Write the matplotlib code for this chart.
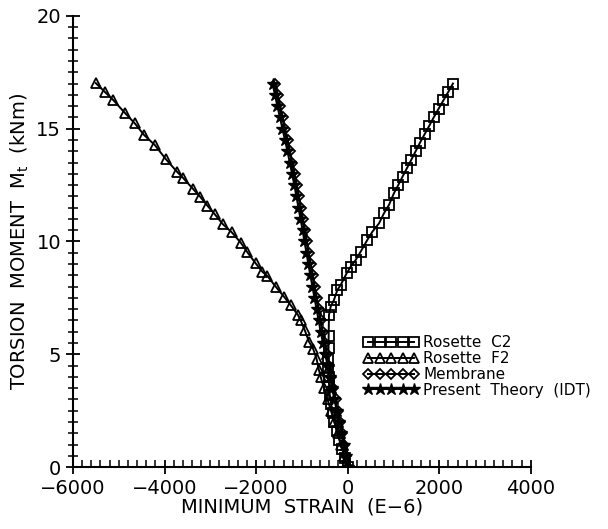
import matplotlib
matplotlib.use("Agg")
import matplotlib.pyplot as plt
from matplotlib.ticker import MultipleLocator

# Rosette C2 (squares)
c2_strain = [0, -60, -120, -180, -240, -290, -330, -360, -390, -405, -415, -420,
             -420, -418, -415, -408, -371, -299, -225, -153, -22, 66, 175, 284,
             430, 539, 684, 793, 902, 1011, 1105, 1200, 1295, 1390, 1485, 1580,
             1680, 1780, 1880, 1985, 2090, 2195, 2300]
c2_moment = [0, 0.4, 0.8, 1.2, 1.6, 2.0, 2.4, 2.8, 3.2, 3.6, 4.0, 4.4,
             4.8, 5.3, 5.8, 6.74, 7.11, 7.41, 7.85, 8.07, 8.59, 8.88, 9.18, 9.55,
             10.07, 10.43, 10.80, 11.25, 11.62, 12.14, 12.5, 12.88, 13.25, 13.62, 14.0, 14.38,
             14.75, 15.12, 15.5, 15.88, 16.25, 16.62, 17.0]

# Rosette F2 (triangles)
f2_strain = [0, -70, -145, -220, -290, -365, -440, -515, -590, -627, -677,
             -750, -845, -939, -1026, -1085, -1245, -1390, -1572, -1754, -1863,
             -2009, -2190, -2336, -2533, -2723, -2904, -3064, -3225, -3369,
             -3587, -3718, -3967, -4214, -4447, -4651, -4862, -5116, -5299, -5502]
f2_moment = [0, 0.5, 1.0, 1.5, 2.0, 2.5, 3.0, 3.5, 4.0, 4.30, 4.78,
             5.22, 5.56, 6.08, 6.50, 6.74, 7.18, 7.55, 8.00, 8.47, 8.66,
             9.03, 9.52, 9.95, 10.41, 10.76, 11.21, 11.59, 11.99, 12.31,
             12.80, 13.07, 13.64, 14.28, 14.72, 15.24, 15.69, 16.26, 16.62, 17.02]

# Membrane (diamonds)
mem_strain = [0, -35, -80, -125, -170, -215, -265, -310, -355, -400, -450,
              -495, -545, -590, -630, -675, -720, -760, -805, -850, -890, -930,
              -975, -1020, -1065, -1110, -1160, -1210, -1260, -1310, -1365, -1420,
              -1470, -1525, -1580]
mem_moment = [0, 0.5, 1.0, 1.5, 2.0, 2.5, 3.0, 3.5, 4.0, 4.5, 5.0,
              5.5, 6.0, 6.5, 7.0, 7.5, 8.0, 8.5, 9.0, 9.5, 10.0, 10.5,
              11.0, 11.5, 12.0, 12.5, 13.0, 13.5, 14.0, 14.5, 15.0, 15.5,
              16.0, 16.5, 17.0]

# Present Theory (IDT) (stars)
idt_strain = [0, -40, -90, -140, -190, -240, -290, -340, -390, -440, -490,
              -540, -590, -635, -680, -725, -770, -815, -860, -900, -945, -985,
              -1030, -1075, -1120, -1165, -1215, -1265, -1315, -1370, -1425, -1480,
              -1535, -1590, -1640]
idt_moment = mem_moment

x_ticks = [-6000, -4000, -2000, 0, 2000, 4000]
x_ticklabels = ["\u22126000", "\u22124000", "\u22122000", "0", "2000", "4000"]
y_ticks = [0, 5, 10, 15, 20]

fig = plt.figure(figsize=(6.08, 5.29), dpi=100)
ax = fig.add_axes([0.120, 0.117, 0.753, 0.853])

kw = dict(color="black", lw=1.4, markeredgewidth=1.3, markersize=6.5)
ax.plot(c2_strain, c2_moment, marker="s", mfc="none", label="Rosette  C2", **kw)
ax.plot(f2_strain, f2_moment, marker="^", mfc="none", label="Rosette  F2", **kw)
ax.plot(mem_strain, mem_moment, marker="D", mfc="none", label="Membrane",
        color="black", lw=1.4, markeredgewidth=1.3, markersize=5.5)
ax.plot(idt_strain, idt_moment, marker="*", mfc="black",
        label="Present  Theory  (IDT)", color="black", lw=1.4, markersize=9)

ax.set_xlim(-6000, 4000)
ax.set_ylim(0, 20)
ax.spines["top"].set_visible(False)
ax.spines["right"].set_visible(False)
ax.spines["left"].set_linewidth(1.5)
ax.spines["bottom"].set_linewidth(1.5)

ax.set_xticks(x_ticks, x_ticklabels)
ax.set_yticks(y_ticks)
ax.xaxis.set_minor_locator(MultipleLocator(200))
ax.yaxis.set_minor_locator(MultipleLocator(0.5))
ax.tick_params(axis="both", which="major", direction="inout", length=10,
               width=1.3, labelsize=14)
ax.tick_params(axis="x", which="minor", direction="in", length=5, width=1.1)
ax.tick_params(axis="y", which="minor", direction="inout", length=7, width=1.1)

ax.set_xlabel("MINIMUM  STRAIN  (E\u22126)", fontsize=14, labelpad=0)
ax.set_ylabel("TORSION  MOMENT  $\\mathrm{M_t}$  (kNm)", fontsize=14, labelpad=4)

ax.legend(loc="upper left", bbox_to_anchor=(0.635, 0.292), frameon=False,
          numpoints=5, handlelength=3.6, handletextpad=0.3, labelspacing=0.05,
          borderpad=0, borderaxespad=0, fontsize=11)

fig.savefig("out.png", dpi=100)
